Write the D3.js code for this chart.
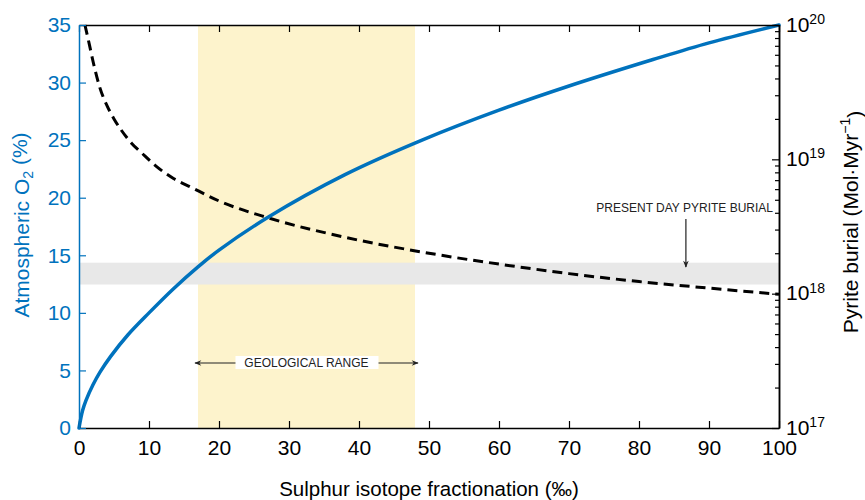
<!DOCTYPE html>
<html>
<head>
<meta charset="utf-8">
<script src="https://cdnjs.cloudflare.com/ajax/libs/d3/7.8.5/d3.min.js"></script>
<style>
  html, body { margin: 0; padding: 0; background: #fff; }
  svg { display: block; font-family: "Liberation Sans", Arial, Helvetica, sans-serif; }
</style>
</head>
<body>
<svg id="chart" width="865" height="500"></svg>
<script>
// ---- data ----
const xTickValues = [0, 10, 20, 30, 40, 50, 60, 70, 80, 90, 100];
const o2TickValues = [0, 5, 10, 15, 20, 25, 30, 35];
const pyriteMajorTicks = [1e17, 1e18, 1e19, 1e20];
const pyriteMinorTicks = [2e17,3e17,4e17,5e17,6e17,7e17,8e17,9e17,
                          2e18,3e18,4e18,5e18,6e18,7e18,8e18,9e18,
                          2e19,3e19,4e19,5e19,6e19,7e19,8e19,9e19];
const pyriteTickLabels = ["17", "18", "19", "20"];

// Atmospheric O2 (%) vs sulphur isotope fractionation (‰)
const o2Fractionation = [0, 0.5, 1, 2, 3, 4.5, 7, 10, 13.5, 17, 20, 27, 38, 49, 60, 70, 82, 90, 100];
const o2Values        = [0, 1.5, 2.4, 3.75, 4.85, 6.2, 8.1, 10.0, 12.1, 14.0, 15.45, 18.3, 22.0, 25.0, 27.6, 29.7, 32.0, 33.45, 35];

// Pyrite burial (Mol·Myr-1) vs fractionation
const pyriteFractionation = [0.85, 1.5, 2, 3, 4, 5, 6, 7.5, 9, 11, 13.5, 16, 20, 27, 38, 50, 60, 70, 80, 90, 100];
const pyriteValues = [1.0e20, 7.08e19, 5.37e19, 3.39e19, 2.51e19, 2.0e19, 1.66e19, 1.32e19, 1.11e19, 8.9e18,
                      7.2e18, 6.2e18, 4.9e18, 3.67e18, 2.63e18, 2.0e18, 1.66e18, 1.41e18, 1.23e18, 1.10e18, 9.9e17];

const geologicalRange = [17, 48];          // fractionation (‰)
const presentDayBurial = [1.17e18, 1.70e18]; // Mol·Myr-1
const presentArrowX = 86.7;

// ---- layout ----
const L = 79, R = 779, T = 25, B = 428;
const blue = "#0072bd";
const svg = d3.select("#chart");

const x = d3.scaleLinear().domain([0, 100]).range([L, R]);
const yL = d3.scaleLinear().domain([0, 35]).range([B, T]);
const yR = d3.scaleLog().domain([1e17, 1e20]).range([B, T]);

// bands
svg.append("rect")
  .attr("x", x(geologicalRange[0])).attr("width", x(geologicalRange[1]) - x(geologicalRange[0]))
  .attr("y", T).attr("height", B - T)
  .attr("fill", "#fdf3cc");
svg.append("rect")
  .attr("x", L).attr("width", R - L)
  .attr("y", yR(presentDayBurial[1])).attr("height", yR(presentDayBurial[0]) - yR(presentDayBurial[1]))
  .attr("fill", "#e8e8e8");

// geological range annotation
const gy = 363;
const defs = svg.append("defs");
defs.append("marker").attr("id", "ah").attr("viewBox", "0 0 10 10")
  .attr("refX", 9).attr("refY", 5).attr("markerWidth", 9).attr("markerHeight", 7)
  .attr("markerUnits", "userSpaceOnUse").attr("orient", "auto-start-reverse")
  .append("path").attr("d", "M0,1 L10,5 L0,9 L3,5 Z").attr("fill", "#222");
svg.append("line")
  .attr("x1", x(geologicalRange[0]) - 3).attr("x2", x(geologicalRange[1]) + 3)
  .attr("y1", gy).attr("y2", gy)
  .attr("stroke", "#222").attr("stroke-width", 1.2)
  .attr("marker-start", "url(#ah)").attr("marker-end", "url(#ah)");
const gcx = (x(geologicalRange[0]) + x(geologicalRange[1])) / 2;
svg.append("rect").attr("x", gcx - 71).attr("y", gy - 7).attr("width", 143).attr("height", 13).attr("fill", "#fff");
svg.append("text").attr("x", gcx).attr("y", gy + 4.2).attr("text-anchor", "middle")
  .attr("font-size", 12).attr("fill", "#222").text("GEOLOGICAL RANGE");

// present day annotation
svg.append("text").attr("x", R - 6).attr("y", 212).attr("text-anchor", "end")
  .attr("font-size", 12).attr("fill", "#222").text("PRESENT DAY PYRITE BURIAL");
svg.append("line")
  .attr("x1", x(presentArrowX)).attr("x2", x(presentArrowX))
  .attr("y1", 219).attr("y2", 267)
  .attr("stroke", "#222").attr("stroke-width", 1.2)
  .attr("marker-end", "url(#ah)");

// curves
const o2Data = o2Fractionation.map((f, i) => [f, o2Values[i]]);
const pyData = pyriteFractionation.map((f, i) => [f, pyriteValues[i]]);

svg.append("path").datum(pyData)
  .attr("fill", "none").attr("stroke", "#000").attr("stroke-width", 3)
  .attr("stroke-dasharray", "10,6")
  .attr("d", d3.line().x(d => x(d[0])).y(d => yR(d[1])).curve(d3.curveMonotoneX));

svg.append("path").datum(o2Data)
  .attr("fill", "none").attr("stroke", blue).attr("stroke-width", 3.5)
  .attr("stroke-linecap", "round")
  .attr("d", d3.line().x(d => x(d[0])).y(d => yL(d[1])).curve(d3.curveCatmullRom.alpha(0.5)));

// axes
const fs = 21;
const gTop = svg.append("g").attr("transform", `translate(0,${T})`)
  .call(d3.axisTop(x).tickValues(xTickValues).tickSizeInner(-7).tickSizeOuter(0).tickFormat(""));
const gBot = svg.append("g").attr("transform", `translate(0,${B})`)
  .call(d3.axisBottom(x).tickValues(xTickValues).tickSizeInner(-7).tickSizeOuter(0).tickPadding(12));
const gRmin = svg.append("g").attr("transform", `translate(${R},0)`)
  .call(d3.axisRight(yR).tickValues(pyriteMinorTicks).tickSizeInner(-4).tickSizeOuter(0).tickFormat(""));
const gR = svg.append("g").attr("transform", `translate(${R},0)`)
  .call(d3.axisRight(yR).tickValues(pyriteMajorTicks).tickSizeInner(-7).tickSizeOuter(0).tickPadding(7)
        .tickFormat(() => ""));
const gL = svg.append("g").attr("transform", `translate(${L},0)`)
  .call(d3.axisLeft(yL).tickValues(o2TickValues).tickSizeInner(-7).tickSizeOuter(0).tickPadding(8));

[gTop, gBot, gR, gRmin].forEach(g => {
  g.selectAll("path.domain").attr("stroke", "#000").attr("stroke-width", 1.5);
  g.selectAll(".tick line").attr("stroke", "#000").attr("stroke-width", 1.2);
});
gL.selectAll("path.domain").attr("stroke", blue).attr("stroke-width", 1.5);
gL.selectAll(".tick line").attr("stroke", blue).attr("stroke-width", 1.2);
gL.selectAll(".tick text").attr("fill", blue).attr("font-size", fs).attr("font-family", null);
gBot.selectAll(".tick text").attr("fill", "#000").attr("font-size", fs).attr("font-family", null);

gR.selectAll(".tick text").each(function(d, i) {
  const t = d3.select(this).attr("font-size", fs).attr("font-family", null).attr("fill", "#000")
    .attr("dy", "0.3em");
  t.text("10");
  t.append("tspan").attr("dy", "-0.55em").attr("font-size", 14).text(pyriteTickLabels[i]);
});

// axis titles
svg.append("text")
  .attr("transform", `translate(${x(50)},496)`).attr("text-anchor", "middle")
  .attr("font-size", 20.5).attr("fill", "#000")
  .text("Sulphur isotope fractionation (‰)");

const lt = svg.append("text")
  .attr("transform", "translate(29,225) rotate(-90)").attr("text-anchor", "middle")
  .attr("font-size", fs).attr("fill", blue);
lt.append("tspan").text("Atmospheric O");
lt.append("tspan").attr("font-size", 14).attr("dy", "0.3em").text("2");
lt.append("tspan").attr("dy", "-0.3em").text(" (%)");

const rt = svg.append("text")
  .attr("transform", "translate(858,222) rotate(-90)").attr("text-anchor", "middle")
  .attr("font-size", fs).attr("fill", "#000");
rt.append("tspan").text("Pyrite burial (Mol·Myr");
rt.append("tspan").attr("font-size", 14).attr("dy", "-0.55em").text("−1");
rt.append("tspan").attr("dy", "0.55em").text(")");
</script>
</body>
</html>
